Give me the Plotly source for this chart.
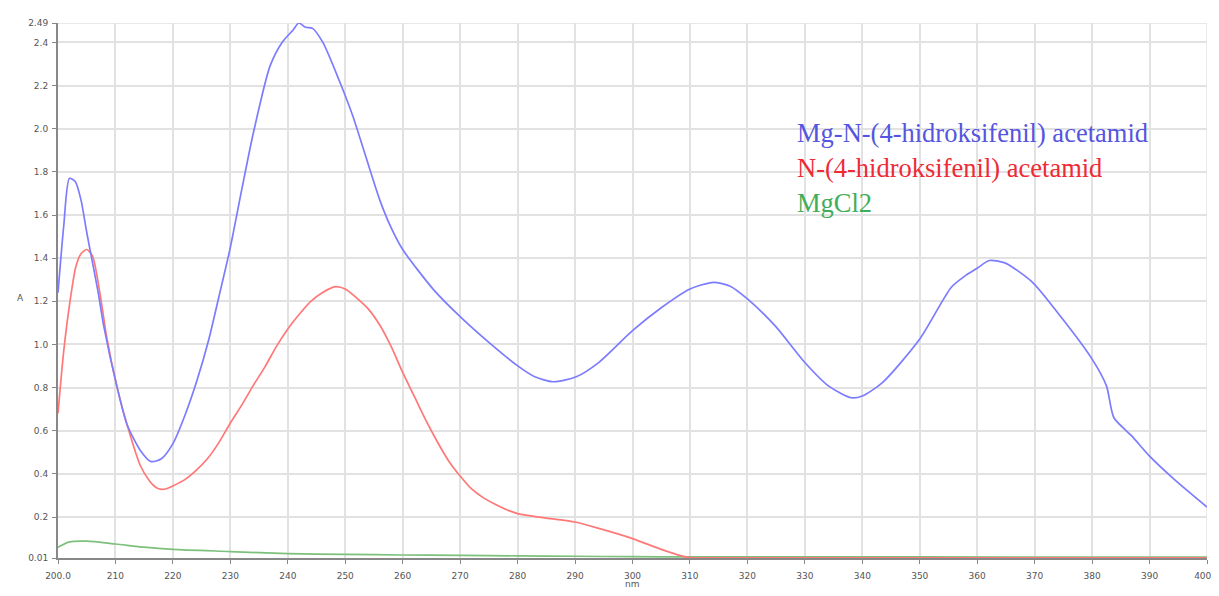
import plotly.graph_objects as go

# Mg-N-(4-hidroksifenil) acetamid (blue)
blue_nm = [200, 201, 202, 203, 204, 205, 206, 207, 208, 210.3, 212, 214.3, 216.2, 218, 220,
           222, 224.2, 226.2, 228, 230, 232, 234, 236.9, 239, 241, 241.9, 243.1, 244.3, 246.1, 249,
           251.3, 256, 258, 260, 265.4, 270, 275.2, 280.2, 283, 286.2, 290.2, 294.1, 300, 305,
           310, 314.1, 317, 320, 324.8, 330, 334.1, 338.1, 340, 343.5, 350, 355.5, 358, 360,
           362.1, 364.8, 369.5, 373.5, 380, 382.5, 383.8, 386.9, 390, 394.4, 400]
blue_a = [1.24, 1.55, 1.77, 1.755, 1.67, 1.52, 1.38, 1.24, 1.08, 0.80, 0.63, 0.51, 0.457, 0.47, 0.54,
          0.665, 0.834, 1.018, 1.22, 1.45, 1.72, 1.98, 2.29, 2.40, 2.46, 2.49, 2.47, 2.465, 2.40, 2.22,
          2.06, 1.67, 1.54, 1.44, 1.253, 1.129, 1.005, 0.897, 0.85, 0.827, 0.85, 0.916, 1.064, 1.17,
          1.257, 1.288, 1.27, 1.211, 1.087, 0.916, 0.808, 0.753, 0.761, 0.823, 1.025, 1.265, 1.32, 1.353,
          1.389, 1.378, 1.291, 1.164, 0.932, 0.808, 0.66, 0.576, 0.482, 0.372, 0.246]

# N-(4-hidroksifenil) acetamid (red)
red_nm = [200, 201, 202.2, 203.1, 204, 205, 206, 207.4, 208.5, 210.3, 212, 214.3, 216, 217, 218,
          219, 220, 222, 224, 226, 228, 230, 232, 234, 236, 238, 240, 242, 244, 246, 248.3, 250, 252,
          254, 256, 258, 260, 262, 264, 266, 268, 270, 272, 274, 276, 278, 280, 285, 290, 294.3,
          300, 305, 308.5, 310, 320, 340, 360, 380, 400]
red_a = [0.68, 0.97, 1.22, 1.36, 1.42, 1.44, 1.41, 1.22, 1.03, 0.80, 0.63, 0.44, 0.365, 0.338, 0.328,
         0.332, 0.344, 0.372, 0.415, 0.47, 0.545, 0.636, 0.72, 0.81, 0.895, 0.99, 1.072, 1.14, 1.20, 1.24, 1.268,
         1.257, 1.215, 1.165, 1.09, 0.99, 0.87, 0.76, 0.65, 0.55, 0.46, 0.39, 0.33, 0.29, 0.26, 0.235,
         0.216, 0.195, 0.177, 0.146, 0.10, 0.05, 0.02, 0.012, 0.011, 0.011, 0.011, 0.011, 0.011]

# MgCl2 (green)
green_nm = [200, 202, 205, 210, 215, 220, 230, 240, 250, 260, 270, 280, 290, 300, 310, 350, 400]
green_a = [0.06, 0.085, 0.088, 0.075, 0.06, 0.05, 0.04, 0.03, 0.027, 0.024, 0.022, 0.02, 0.018,
           0.016, 0.015, 0.015, 0.014]

x_ticks = [200, 210, 220, 230, 240, 250, 260, 270, 280, 290, 300, 310, 320, 330, 340, 350,
           360, 370, 380, 390, 400]
x_tick_text = ["200.0"] + [str(v) for v in x_ticks[1:-1]] + ["400.0"]
y_ticks = [0.01, 0.2, 0.4, 0.6, 0.8, 1.0, 1.2, 1.4, 1.6, 1.8, 2.0, 2.2, 2.4, 2.49]
y_tick_text = ["0.01", "0.2", "0.4", "0.6", "0.8", "1.0", "1.2", "1.4", "1.6", "1.8", "2.0",
               "2.2", "2.4", "2.49"]

legend_names = ["Mg-N-(4-hidroksifenil) acetamid", "N-(4-hidroksifenil) acetamid", "MgCl2"]
legend_colors = ["#5555e0", "#ee2a35", "#3fae5a"]

# page has an 8px body margin; figure coordinates = page coordinates - 8
W, H = 1211, 580
L, R, T, B = 50, 12, 15, 30
pw, ph = W - L - R, H - T - B
GRID = "#e2e2e2"
SMOOTH = 0.7

fig = go.Figure()
fig.add_trace(go.Scatter(x=green_nm, y=green_a, mode="lines",
                         line=dict(color="#7cc07c", width=1.7, shape="spline", smoothing=SMOOTH),
                         name=legend_names[2], showlegend=False))
fig.add_trace(go.Scatter(x=red_nm, y=red_a, mode="lines",
                         line=dict(color="#ff7878", width=1.7, shape="spline", smoothing=SMOOTH),
                         name=legend_names[1], showlegend=False))
fig.add_trace(go.Scatter(x=blue_nm, y=blue_a, mode="lines",
                         line=dict(color="#7c7cff", width=1.7, shape="spline", smoothing=SMOOTH),
                         name=legend_names[0], showlegend=False))

for i, (name, col) in enumerate(zip(legend_names, legend_colors)):
    fig.add_annotation(xref="paper", yref="paper", x=(787 - L) / pw,
                       y=(H - B - (125 + 35 * i)) / ph,
                       xanchor="left", yanchor="middle", text=name, showarrow=False,
                       font=dict(family="Liberation Serif", size=26.5, color=col))

# axis titles
fig.add_annotation(xref="paper", yref="paper", x=(624 - L) / pw, y=-(576 - (H - B)) / ph,
                   xanchor="center", yanchor="middle", text="nm", showarrow=False,
                   font=dict(family="DejaVu Sans", size=9, color="#555"))
fig.add_annotation(xref="paper", yref="paper", x=-(L - 12) / pw, y=(H - B - 290) / ph,
                   xanchor="center", yanchor="middle", text="A", showarrow=False,
                   font=dict(family="DejaVu Sans", size=9, color="#555"))

# grid lines at the far ends of the axes (plotly omits them at range edges)
fig.add_shape(type="line", xref="x", yref="paper", x0=x_ticks[-1], x1=x_ticks[-1], y0=0, y1=1,
              line=dict(color=GRID, width=1.5), layer="below")
fig.add_shape(type="line", xref="paper", yref="y", x0=0, x1=1, y0=y_ticks[-1], y1=y_ticks[-1],
              line=dict(color=GRID, width=1.5), layer="below")

fig.update_layout(
    width=W, height=H,
    margin=dict(l=L, r=R, t=T, b=B, autoexpand=False),
    paper_bgcolor="white", plot_bgcolor="white",
    font=dict(family="DejaVu Sans", size=9, color="#555"),
)
fig.update_xaxes(range=[200, 400], tickvals=x_ticks, ticktext=x_tick_text, automargin=False,
                 showgrid=True, gridcolor=GRID, gridwidth=1.5,
                 showline=True, linecolor="#888", linewidth=2,
                 ticks="outside", ticklen=4, tickcolor="#888", ticklabelstandoff=4,
                 ticklabeloverflow="allow", zeroline=False)
fig.update_yaxes(range=[0.01, 2.49], tickvals=y_ticks, ticktext=y_tick_text, automargin=False,
                 showgrid=True, gridcolor=GRID, gridwidth=1.5,
                 showline=True, linecolor="#888", linewidth=2,
                 ticks="outside", ticklen=4, tickcolor="#888", ticklabelstandoff=2,
                 ticklabeloverflow="allow", zeroline=False)

fig.write_html("out.html")
